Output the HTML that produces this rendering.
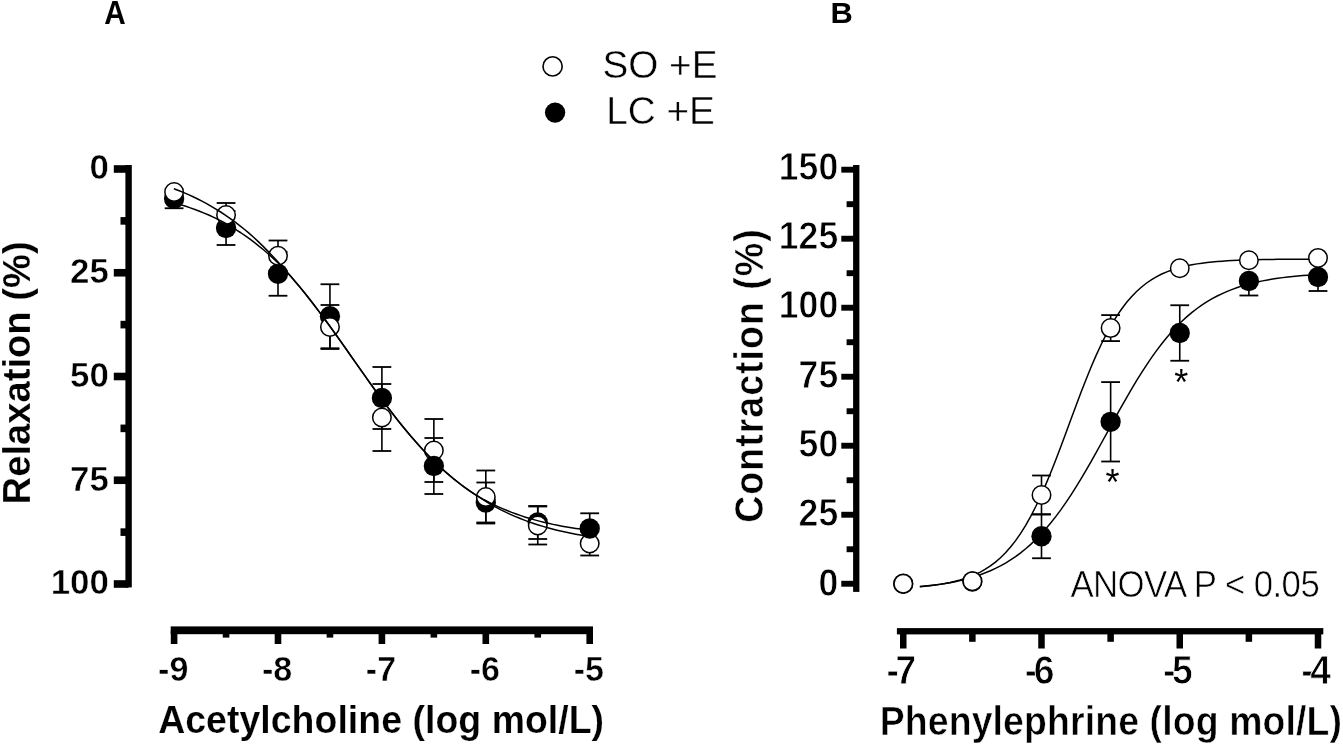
<!DOCTYPE html>
<html lang="en"><head><meta charset="utf-8"><title>Concentration-response curves</title>
<style>html,body{margin:0;padding:0;background:#fff;overflow:hidden}svg{display:block;filter:blur(0.35px)}text{font-family:"Liberation Sans",sans-serif;fill:#000}.b{font-weight:bold}</style></head><body>
<svg width="1343" height="744" viewBox="0 0 1343 744" role="img" aria-label="Concentration-response curves to acetylcholine and phenylephrine">
<rect x="0" y="0" width="1343" height="744" fill="#fff"/>
<text class="b" transform="translate(104.2 23.5) scale(0.93 1.04)" font-size="32">A</text>
<text class="b" transform="translate(830.4 23.1) scale(1.05 1)" font-size="29.4">B</text>
<circle cx="552.6" cy="66.4" r="9.6" fill="#fff" stroke="#000" stroke-width="1.6"/>
<circle cx="555.1" cy="112.6" r="10.2" fill="#000"/>
<text stroke="#fff" stroke-width="0.4" transform="translate(602.4 78) scale(1 1.025)" font-size="38.7">SO +E</text>
<text stroke="#fff" stroke-width="0.4" transform="translate(606.2 124.3) scale(1 1.025)" font-size="38.7">LC +E</text>
<rect x="125.4" y="165" width="6.4" height="422.4" fill="#000"/>
<rect x="113.8" y="165.2" width="14.8" height="7.6" fill="#000"/>
<rect x="120.5" y="217.07" width="8.1" height="7.6" fill="#000"/>
<rect x="113.8" y="268.95" width="14.8" height="7.6" fill="#000"/>
<rect x="120.5" y="320.82" width="8.1" height="7.6" fill="#000"/>
<rect x="113.8" y="372.7" width="14.8" height="7.6" fill="#000"/>
<rect x="120.5" y="424.57" width="8.1" height="7.6" fill="#000"/>
<rect x="113.8" y="476.45" width="14.8" height="7.6" fill="#000"/>
<rect x="120.5" y="528.33" width="8.1" height="7.6" fill="#000"/>
<rect x="113.8" y="580.2" width="14.8" height="7.6" fill="#000"/>
<rect x="170.7" y="626.4" width="422.3" height="7.8" fill="#000"/>
<rect x="170.8" y="630.3" width="6.6" height="13.7" fill="#000"/>
<rect x="222.75" y="630.3" width="6.6" height="7.3" fill="#000"/>
<rect x="274.7" y="630.3" width="6.6" height="13.7" fill="#000"/>
<rect x="326.65" y="630.3" width="6.6" height="7.3" fill="#000"/>
<rect x="378.6" y="630.3" width="6.6" height="13.7" fill="#000"/>
<rect x="430.55" y="630.3" width="6.6" height="7.3" fill="#000"/>
<rect x="482.5" y="630.3" width="6.6" height="13.7" fill="#000"/>
<rect x="534.45" y="630.3" width="6.6" height="7.3" fill="#000"/>
<rect x="586.4" y="630.3" width="6.6" height="13.7" fill="#000"/>
<text class="b" text-anchor="end" stroke="#fff" stroke-width="0.5" transform="translate(108.9 179.45) scale(1 1.01)" font-size="34.9">0</text>
<text class="b" text-anchor="end" stroke="#fff" stroke-width="0.5" transform="translate(108.9 283.2) scale(1 1.01)" font-size="34.9">25</text>
<text class="b" text-anchor="end" stroke="#fff" stroke-width="0.5" transform="translate(108.9 386.95) scale(1 1.01)" font-size="34.9">50</text>
<text class="b" text-anchor="end" stroke="#fff" stroke-width="0.5" transform="translate(108.9 490.7) scale(1 1.01)" font-size="34.9">75</text>
<text class="b" text-anchor="end" stroke="#fff" stroke-width="0.5" transform="translate(108.9 594.45) scale(1 1.01)" font-size="34.9">100</text>
<text class="b" text-anchor="middle" stroke="#fff" stroke-width="0.5" transform="translate(173.2 681.05) scale(1 1.035)" font-size="34.1">-9</text>
<text class="b" text-anchor="middle" stroke="#fff" stroke-width="0.5" transform="translate(277.1 681.05) scale(1 1.035)" font-size="34.1">-8</text>
<text class="b" text-anchor="middle" stroke="#fff" stroke-width="0.5" transform="translate(381 681.05) scale(1 1.035)" font-size="34.1">-7</text>
<text class="b" text-anchor="middle" stroke="#fff" stroke-width="0.5" transform="translate(484.9 681.05) scale(1 1.035)" font-size="34.1">-6</text>
<text class="b" text-anchor="middle" stroke="#fff" stroke-width="0.5" transform="translate(588.8 681.05) scale(1 1.035)" font-size="34.1">-5</text>
<text class="b" letter-spacing="0.05" stroke="#fff" stroke-width="0.2" transform="translate(158.2 732.9) scale(1 1.045)" font-size="37.4">Acetylcholine (log mol/L)</text>
<text class="b" letter-spacing="0.05" stroke="#fff" stroke-width="0.2" transform="translate(29.8 504.4) rotate(-90) scale(1 1.03)" font-size="38.1">Relaxation (%)</text>
<rect x="173.3" y="189.25" width="1.6" height="19" fill="#000"/>
<rect x="164.7" y="188.35" width="18.8" height="1.8" fill="#000"/>
<rect x="164.7" y="207.35" width="18.8" height="1.8" fill="#000"/>
<rect x="225.25" y="211" width="1.6" height="34" fill="#000"/>
<rect x="216.65" y="210.1" width="18.8" height="1.8" fill="#000"/>
<rect x="216.65" y="244.1" width="18.8" height="1.8" fill="#000"/>
<rect x="225.25" y="203" width="1.6" height="24" fill="#000"/>
<rect x="216.65" y="202.1" width="18.8" height="1.8" fill="#000"/>
<rect x="216.65" y="226.1" width="18.8" height="1.8" fill="#000"/>
<rect x="277.2" y="251.75" width="1.6" height="44" fill="#000"/>
<rect x="268.6" y="250.85" width="18.8" height="1.8" fill="#000"/>
<rect x="268.6" y="294.85" width="18.8" height="1.8" fill="#000"/>
<rect x="277.2" y="240.5" width="1.6" height="30.5" fill="#000"/>
<rect x="268.6" y="239.6" width="18.8" height="1.8" fill="#000"/>
<rect x="268.6" y="270.1" width="18.8" height="1.8" fill="#000"/>
<rect x="329.15" y="284.25" width="1.6" height="64" fill="#000"/>
<rect x="320.55" y="283.35" width="18.8" height="1.8" fill="#000"/>
<rect x="320.55" y="347.35" width="18.8" height="1.8" fill="#000"/>
<rect x="329.15" y="305" width="1.6" height="44" fill="#000"/>
<rect x="320.55" y="304.1" width="18.8" height="1.8" fill="#000"/>
<rect x="320.55" y="348.1" width="18.8" height="1.8" fill="#000"/>
<rect x="381.1" y="367" width="1.6" height="62" fill="#000"/>
<rect x="372.5" y="366.1" width="18.8" height="1.8" fill="#000"/>
<rect x="372.5" y="428.1" width="18.8" height="1.8" fill="#000"/>
<rect x="381.1" y="384" width="1.6" height="67" fill="#000"/>
<rect x="372.5" y="383.1" width="18.8" height="1.8" fill="#000"/>
<rect x="372.5" y="450.1" width="18.8" height="1.8" fill="#000"/>
<rect x="433.05" y="438" width="1.6" height="56" fill="#000"/>
<rect x="424.45" y="437.1" width="18.8" height="1.8" fill="#000"/>
<rect x="424.45" y="493.1" width="18.8" height="1.8" fill="#000"/>
<rect x="433.05" y="419" width="1.6" height="63" fill="#000"/>
<rect x="424.45" y="418.1" width="18.8" height="1.8" fill="#000"/>
<rect x="424.45" y="481.1" width="18.8" height="1.8" fill="#000"/>
<rect x="485" y="482.5" width="1.6" height="40" fill="#000"/>
<rect x="476.4" y="481.6" width="18.8" height="1.8" fill="#000"/>
<rect x="476.4" y="521.6" width="18.8" height="1.8" fill="#000"/>
<rect x="485" y="470.5" width="1.6" height="53" fill="#000"/>
<rect x="476.4" y="469.6" width="18.8" height="1.8" fill="#000"/>
<rect x="476.4" y="522.6" width="18.8" height="1.8" fill="#000"/>
<rect x="536.95" y="506" width="1.6" height="33" fill="#000"/>
<rect x="528.35" y="505.1" width="18.8" height="1.8" fill="#000"/>
<rect x="528.35" y="538.1" width="18.8" height="1.8" fill="#000"/>
<rect x="536.95" y="506.5" width="1.6" height="38" fill="#000"/>
<rect x="528.35" y="505.6" width="18.8" height="1.8" fill="#000"/>
<rect x="528.35" y="543.6" width="18.8" height="1.8" fill="#000"/>
<rect x="588.9" y="513.3" width="1.6" height="30.4" fill="#000"/>
<rect x="580.3" y="512.4" width="18.8" height="1.8" fill="#000"/>
<rect x="580.3" y="542.8" width="18.8" height="1.8" fill="#000"/>
<rect x="588.9" y="531.5" width="1.6" height="24" fill="#000"/>
<rect x="580.3" y="530.6" width="18.8" height="1.8" fill="#000"/>
<rect x="580.3" y="554.6" width="18.8" height="1.8" fill="#000"/>
<circle cx="174.1" cy="198.75" r="10.15" fill="#000"/>
<circle cx="174.1" cy="192" r="9.25" fill="#fff" stroke="#000" stroke-width="1.5"/>
<circle cx="226.05" cy="228" r="10.15" fill="#000"/>
<circle cx="226.05" cy="215" r="9.25" fill="#fff" stroke="#000" stroke-width="1.5"/>
<circle cx="278" cy="273.75" r="10.15" fill="#000"/>
<circle cx="278" cy="255.75" r="9.25" fill="#fff" stroke="#000" stroke-width="1.5"/>
<circle cx="329.95" cy="316.25" r="10.15" fill="#000"/>
<circle cx="329.95" cy="327" r="9.25" fill="#fff" stroke="#000" stroke-width="1.5"/>
<circle cx="381.9" cy="398" r="10.15" fill="#000"/>
<circle cx="381.9" cy="417.5" r="9.25" fill="#fff" stroke="#000" stroke-width="1.5"/>
<circle cx="433.85" cy="450.5" r="9.25" fill="#fff" stroke="#000" stroke-width="1.5"/>
<circle cx="433.85" cy="466" r="10.15" fill="#000"/>
<circle cx="485.8" cy="502.5" r="10.15" fill="#000"/>
<circle cx="485.8" cy="497" r="9.25" fill="#fff" stroke="#000" stroke-width="1.5"/>
<circle cx="537.75" cy="522.5" r="10.15" fill="#000"/>
<circle cx="537.75" cy="525.5" r="9.25" fill="#fff" stroke="#000" stroke-width="1.5"/>
<circle cx="589.7" cy="543.5" r="9.25" fill="#fff" stroke="#000" stroke-width="1.5"/>
<circle cx="589.7" cy="528.5" r="10.15" fill="#000"/>
<path d="M181.16 204.9 L185.75 206.33 L190.34 207.86 L194.93 209.49 L199.53 211.22 L204.12 213.08 L208.71 215.05 L213.3 217.15 L217.89 219.38 L222.48 221.75 L227.07 224.27 L231.66 226.94 L236.25 229.76 L240.84 232.75 L245.43 235.9 L250.02 239.23 L254.61 242.71 L259.2 246.3 L263.79 250.04 L268.38 253.98 L272.98 258.13 L277.57 262.51 L282.16 267.13 L286.75 272 L291.34 277.09 L295.93 282.39 L300.52 287.88 L305.11 293.54 L309.7 299.34 L314.29 305.28 L318.88 311.34 L323.47 317.51 L328.06 323.78 L332.65 330.13 L337.24 336.55 L341.84 343.03 L346.43 349.55 L351.02 356.09 L355.61 362.63 L360.2 369.17 L364.79 375.68 L369.38 382.14 L373.97 388.55 L378.56 394.88 L383.15 401.12 L387.74 407.27 L392.33 413.29 L396.92 419.19 L401.51 424.96 L406.1 430.57 L410.69 436.04 L415.29 441.34 L419.88 446.47 L424.47 451.43 L429.06 456.22 L433.65 460.83 L438.24 465.26 L442.83 469.51 L447.42 473.58 L452.01 477.48 L456.6 481.2 L461.19 484.75 L465.78 488.13 L470.37 491.33 L474.96 494.34 L479.55 497.16 L484.15 499.78 L488.74 502.21 L493.33 504.47 L497.92 506.59 L502.51 508.59 L507.1 510.51 L511.69 512.34 L516.28 514.05 L520.87 515.66 L525.46 517.17 L530.05 518.58 L534.64 519.89 L539.23 521.13 L543.82 522.28 L548.41 523.35 L553 524.36 L557.6 525.3 L562.19 526.17 L566.78 526.99 L571.37 527.75 L575.96 528.45 L580.55 529.11 L585.14 529.73 L589.73 530.3" fill="none" stroke="#000" stroke-width="1.5" stroke-linejoin="round"/>
<path d="M173.9 188.72 L178.57 190.5 L183.24 192.39 L187.92 194.4 L192.59 196.52 L197.26 198.76 L201.93 201.13 L206.61 203.64 L211.28 206.28 L215.95 209.06 L220.62 212 L225.29 215.08 L229.97 218.32 L234.64 221.73 L239.31 225.29 L243.98 229.03 L248.66 232.93 L253.33 237.02 L258 241.35 L262.67 245.9 L267.34 250.63 L272.02 255.51 L276.69 260.52 L281.36 265.65 L286.03 270.88 L290.71 276.23 L295.38 281.71 L300.05 287.31 L304.72 293.06 L309.4 298.95 L314.07 304.99 L318.74 311.15 L323.41 317.43 L328.08 323.81 L332.76 330.27 L337.43 336.81 L342.1 343.41 L346.77 350.04 L351.45 356.7 L356.12 363.36 L360.79 370.01 L365.46 376.63 L370.13 383.2 L374.81 389.71 L379.48 396.14 L384.15 402.47 L388.82 408.7 L393.5 414.8 L398.17 420.77 L402.84 426.59 L407.51 432.27 L412.18 437.77 L416.86 443.11 L421.53 448.28 L426.2 453.26 L430.87 458.06 L435.55 462.68 L440.22 467.11 L444.89 471.36 L449.56 475.42 L454.23 479.3 L458.91 483 L463.58 486.53 L468.25 489.88 L472.92 493.09 L477.6 496.18 L482.27 499.15 L486.94 502.01 L491.61 504.76 L496.29 507.39 L500.96 509.88 L505.63 512.19 L510.3 514.35 L514.97 516.38 L519.65 518.3 L524.32 520.12 L528.99 521.83 L533.66 523.44 L538.34 524.95 L543.01 526.38 L547.68 527.73 L552.35 528.99 L557.02 530.18 L561.7 531.29 L566.37 532.34 L571.04 533.32 L575.71 534.25 L580.39 535.11 L585.06 535.93 L589.73 536.69" fill="none" stroke="#000" stroke-width="1.5" stroke-linejoin="round"/>
<rect x="853.1" y="165" width="6.3" height="426.9" fill="#000"/>
<rect x="841.3" y="166.75" width="14.95" height="5.9" fill="#000"/>
<rect x="846.6" y="201.25" width="9.65" height="5.9" fill="#000"/>
<rect x="841.3" y="235.76" width="14.95" height="5.9" fill="#000"/>
<rect x="846.6" y="270.26" width="9.65" height="5.9" fill="#000"/>
<rect x="841.3" y="304.77" width="14.95" height="5.9" fill="#000"/>
<rect x="846.6" y="339.27" width="9.65" height="5.9" fill="#000"/>
<rect x="841.3" y="373.78" width="14.95" height="5.9" fill="#000"/>
<rect x="846.6" y="408.28" width="9.65" height="5.9" fill="#000"/>
<rect x="841.3" y="442.78" width="14.95" height="5.9" fill="#000"/>
<rect x="846.6" y="477.29" width="9.65" height="5.9" fill="#000"/>
<rect x="841.3" y="511.79" width="14.95" height="5.9" fill="#000"/>
<rect x="846.6" y="546.3" width="9.65" height="5.9" fill="#000"/>
<rect x="841.3" y="580.8" width="14.95" height="5.9" fill="#000"/>
<rect x="896.9" y="628.1" width="426.4" height="6.3" fill="#000"/>
<rect x="900" y="631.25" width="6.5" height="17.25" fill="#000"/>
<rect x="969.12" y="631.25" width="6.5" height="10.55" fill="#000"/>
<rect x="1038.25" y="631.25" width="6.5" height="17.25" fill="#000"/>
<rect x="1107.38" y="631.25" width="6.5" height="10.55" fill="#000"/>
<rect x="1176.5" y="631.25" width="6.5" height="17.25" fill="#000"/>
<rect x="1245.62" y="631.25" width="6.5" height="10.55" fill="#000"/>
<rect x="1314.75" y="631.25" width="6.5" height="17.25" fill="#000"/>
<text class="b" text-anchor="end" stroke="#fff" stroke-width="0.8" transform="translate(838.2 179.7) scale(0.955 1.045)" font-size="37.3">150</text>
<text class="b" text-anchor="end" stroke="#fff" stroke-width="0.8" transform="translate(838.2 249.01) scale(0.955 1.045)" font-size="37.3">125</text>
<text class="b" text-anchor="end" stroke="#fff" stroke-width="0.8" transform="translate(838.2 318.32) scale(0.955 1.045)" font-size="37.3">100</text>
<text class="b" text-anchor="end" stroke="#fff" stroke-width="0.8" transform="translate(838.2 387.62) scale(0.955 1.045)" font-size="37.3">75</text>
<text class="b" text-anchor="end" stroke="#fff" stroke-width="0.8" transform="translate(838.2 456.93) scale(0.955 1.045)" font-size="37.3">50</text>
<text class="b" text-anchor="end" stroke="#fff" stroke-width="0.8" transform="translate(838.2 526.24) scale(0.955 1.045)" font-size="37.3">25</text>
<text class="b" text-anchor="end" stroke="#fff" stroke-width="0.8" transform="translate(838.2 595.55) scale(0.955 1.045)" font-size="37.3">0</text>
<text class="b" text-anchor="middle" stroke="#fff" stroke-width="0.8" transform="translate(901.45 683.7) scale(1 1.07)" font-size="37.3" dx="0 -3.4">-7</text>
<text class="b" text-anchor="middle" stroke="#fff" stroke-width="0.8" transform="translate(1039.7 683.7) scale(1 1.07)" font-size="37.3" dx="0 -3.4">-6</text>
<text class="b" text-anchor="middle" stroke="#fff" stroke-width="0.8" transform="translate(1177.95 683.7) scale(1 1.07)" font-size="37.3" dx="0 -3.4">-5</text>
<text class="b" text-anchor="middle" stroke="#fff" stroke-width="0.8" transform="translate(1316.2 683.7) scale(1 1.07)" font-size="37.3" dx="0 -3.4">-4</text>
<text class="b" letter-spacing="0.13" stroke="#fff" stroke-width="0.5" transform="translate(879.7 735.3) scale(1 1.085)" font-size="37.4">Phenylephrine (log mol/L)</text>
<text class="b" letter-spacing="0.98" stroke="#fff" stroke-width="0.5" transform="translate(762.6 522.8) rotate(-90) scale(1 1.085)" font-size="37.6">Contraction (%)</text>
<text letter-spacing="-0.58" stroke="#fff" stroke-width="0.6" transform="translate(1070.4 597.1) scale(1 1.06)" font-size="34.8">ANOVA P &lt; 0.05</text>
<path d="M919.84 586.83 L924.88 586.31 L929.92 585.74 L934.96 585.09 L940 584.37 L945.04 583.57 L950.08 582.68 L955.12 581.68 L960.16 580.56 L965.2 579.32 L970.24 577.94 L975.28 576.41 L980.32 574.7 L985.36 572.81 L990.4 570.72 L995.44 568.41 L1000.48 565.85 L1005.52 563.04 L1010.56 559.94 L1015.6 556.54 L1020.64 552.82 L1025.68 548.77 L1030.72 544.35 L1035.76 539.55 L1040.8 534.37 L1045.84 528.79 L1050.88 522.8 L1055.92 516.41 L1060.96 509.6 L1066 502.41 L1071.04 494.83 L1076.08 486.91 L1081.12 478.65 L1086.16 470.12 L1091.2 461.34 L1096.24 452.37 L1101.28 443.26 L1106.32 434.08 L1111.36 424.88 L1116.4 415.72 L1121.44 406.67 L1126.48 397.77 L1131.52 389.1 L1136.56 380.68 L1141.6 372.57 L1146.64 364.79 L1151.68 357.38 L1156.72 350.36 L1161.76 343.74 L1166.8 337.52 L1171.84 331.71 L1176.88 326.31 L1181.92 321.3 L1186.96 316.67 L1192 312.41 L1197.04 308.51 L1202.08 304.93 L1207.12 301.67 L1212.16 298.7 L1217.2 296 L1222.24 293.56 L1227.28 291.34 L1232.32 289.34 L1237.36 287.54 L1242.4 285.91 L1247.44 284.45 L1252.48 283.13 L1257.52 281.95 L1262.56 280.88 L1267.6 279.93 L1272.64 279.08 L1277.68 278.31 L1282.72 277.63 L1287.76 277.02 L1292.8 276.47 L1297.84 275.98 L1302.88 275.54 L1307.92 275.15 L1312.96 274.8 L1318 274.49" fill="none" stroke="#000" stroke-width="1.5"/>
<path d="M919.84 586.5 L924.88 586.07 L929.92 585.56 L934.96 584.97 L940 584.27 L945.04 583.44 L950.08 582.48 L955.12 581.34 L960.16 580.02 L965.2 578.47 L970.24 576.65 L975.28 574.54 L980.32 572.08 L985.36 569.23 L990.4 565.93 L995.44 562.12 L1000.48 557.75 L1005.52 552.75 L1010.56 547.06 L1015.6 540.62 L1020.64 533.38 L1025.68 525.3 L1030.72 516.35 L1035.76 506.54 L1040.8 495.87 L1045.84 484.41 L1050.88 472.24 L1055.92 459.46 L1060.96 446.22 L1066 432.67 L1071.04 419.01 L1076.08 405.42 L1081.12 392.08 L1086.16 379.16 L1091.2 366.8 L1096.24 355.14 L1101.28 344.25 L1106.32 334.2 L1111.36 325.01 L1116.4 316.69 L1121.44 309.23 L1126.48 302.57 L1131.52 296.68 L1136.56 291.49 L1141.6 286.95 L1146.64 283 L1151.68 279.56 L1156.72 276.59 L1161.76 274.03 L1166.8 271.83 L1171.84 269.94 L1176.88 268.32 L1181.92 266.93 L1186.96 265.75 L1192 264.74 L1197.04 263.88 L1202.08 263.15 L1207.12 262.52 L1212.16 261.99 L1217.2 261.54 L1222.24 261.16 L1227.28 260.84 L1232.32 260.56 L1237.36 260.33 L1242.4 260.13 L1247.44 259.96 L1252.48 259.82 L1257.52 259.7 L1262.56 259.6 L1267.6 259.51 L1272.64 259.43 L1277.68 259.37 L1282.72 259.32 L1287.76 259.27 L1292.8 259.24 L1297.84 259.2 L1302.88 259.18 L1307.92 259.15 L1312.96 259.13 L1318 259.12" fill="none" stroke="#000" stroke-width="1.5"/>
<rect x="1040.7" y="514.25" width="1.6" height="44" fill="#000"/>
<rect x="1032.1" y="513.35" width="18.8" height="1.8" fill="#000"/>
<rect x="1032.1" y="557.35" width="18.8" height="1.8" fill="#000"/>
<rect x="1040.7" y="475.5" width="1.6" height="39" fill="#000"/>
<rect x="1032.1" y="474.6" width="18.8" height="1.8" fill="#000"/>
<rect x="1032.1" y="513.6" width="18.8" height="1.8" fill="#000"/>
<rect x="1109.83" y="382.1" width="1.6" height="79.4" fill="#000"/>
<rect x="1101.22" y="381.2" width="18.8" height="1.8" fill="#000"/>
<rect x="1101.22" y="460.6" width="18.8" height="1.8" fill="#000"/>
<rect x="1109.83" y="315.1" width="1.6" height="26" fill="#000"/>
<rect x="1101.22" y="314.2" width="18.8" height="1.8" fill="#000"/>
<rect x="1101.22" y="340.2" width="18.8" height="1.8" fill="#000"/>
<rect x="1178.95" y="305.25" width="1.6" height="55.5" fill="#000"/>
<rect x="1170.35" y="304.35" width="18.8" height="1.8" fill="#000"/>
<rect x="1170.35" y="359.85" width="18.8" height="1.8" fill="#000"/>
<rect x="1248.08" y="281" width="1.6" height="14.5" fill="#000"/>
<rect x="1239.47" y="294.6" width="18.8" height="1.8" fill="#000"/>
<rect x="1317.2" y="277" width="1.6" height="14" fill="#000"/>
<rect x="1308.6" y="290.1" width="18.8" height="1.8" fill="#000"/>
<circle cx="903.25" cy="583.75" r="10.15" fill="#000"/>
<circle cx="903.25" cy="583.75" r="9.25" fill="#fff" stroke="#000" stroke-width="1.5"/>
<circle cx="972.38" cy="581.5" r="10.15" fill="#000"/>
<circle cx="972.38" cy="581.25" r="9.25" fill="#fff" stroke="#000" stroke-width="1.5"/>
<circle cx="1041.5" cy="536.25" r="10.15" fill="#000"/>
<circle cx="1041.5" cy="495" r="9.25" fill="#fff" stroke="#000" stroke-width="1.5"/>
<circle cx="1110.62" cy="421.8" r="10.15" fill="#000"/>
<circle cx="1110.62" cy="328.1" r="9.25" fill="#fff" stroke="#000" stroke-width="1.5"/>
<circle cx="1179.75" cy="333" r="10.15" fill="#000"/>
<circle cx="1179.75" cy="268.25" r="9.25" fill="#fff" stroke="#000" stroke-width="1.5"/>
<circle cx="1248.88" cy="281" r="10.15" fill="#000"/>
<circle cx="1248.88" cy="260.3" r="9.25" fill="#fff" stroke="#000" stroke-width="1.5"/>
<circle cx="1318" cy="257.9" r="9.25" fill="#fff" stroke="#000" stroke-width="1.5"/>
<circle cx="1318" cy="277" r="10.15" fill="#000"/>
<text text-anchor="middle" transform="translate(1112.5 495.2)" font-size="36">*</text>
<text text-anchor="middle" transform="translate(1181.2 395.2)" font-size="36">*</text>
</svg></body></html>
